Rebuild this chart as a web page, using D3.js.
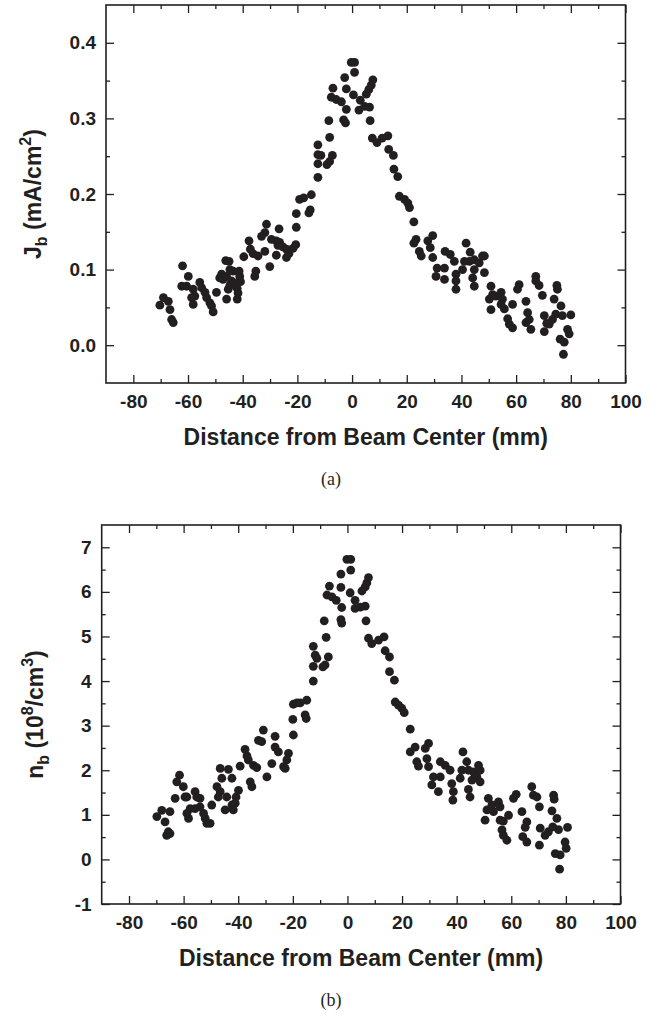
<!DOCTYPE html>
<html>
<head>
<meta charset="utf-8">
<script src="https://cdn.jsdelivr.net/npm/d3@7"></script>
<style>
  body { margin: 0; background: #fff; }
  svg text { font-family: "Liberation Sans", Arial, sans-serif; fill: #231f20; }
</style>
</head>
<body>
<div id="chart"></div>
<script>
// x ticks shared by both panels
const xTicks = [-80, -60, -40, -20, 0, 20, 40, 60, 80, 100];
const xMinor = [-70, -50, -30, -10, 10, 30, 50, 70, 90];

// panel (a): current density
const jTicks = [0.0, 0.1, 0.2, 0.3, 0.4];
const jMinor = [0.05, 0.15, 0.25, 0.35];
const jbData = [
  [-70.3,0.053],[-69.0,0.063],[-67.2,0.058],[-66.6,0.047],[-66.0,0.034],[-65.4,0.030],
  [-62.0,0.105],[-59.9,0.091],[-62.3,0.078],[-60.5,0.078],
  [-55.7,0.083],[-55.0,0.076],[-58.1,0.074],[-57.5,0.065],[-58.7,0.063],[-58.1,0.054],
  [-53.8,0.070],[-53.2,0.063],[-52.0,0.056],[-51.4,0.052],[-50.8,0.044],
  [-49.6,0.070],[-45.9,0.061],
  [-46.2,0.112],[-45.0,0.111],[-44.7,0.100],[-43.5,0.098],
  [-47.7,0.094],[-48.4,0.089],[-47.2,0.087],[-45.9,0.091],
  [-41.3,0.098],[-41.1,0.091],[-40.8,0.084],
  [-42.5,0.082],[-42.0,0.075],[-41.7,0.069],[-42.0,0.061],
  [-44.1,0.085],[-44.7,0.079],[-45.3,0.074],
  [-39.6,0.117],[-37.7,0.138],[-37.2,0.127],[-36.2,0.121],[-34.4,0.118],
  [-35.2,0.098],[-35.6,0.091],
  [-31.3,0.160],[-26.7,0.154],[-31.9,0.149],[-33.1,0.144],
  [-29.5,0.140],[-27.7,0.138],[-26.5,0.136],
  [-31.9,0.124],[-27.1,0.132],[-25.3,0.130],[-24.0,0.127],
  [-20.6,0.133],[-21.6,0.128],[-23.1,0.121],[-24.0,0.116],
  [-27.7,0.119],[-30.1,0.104],
  [-20.4,0.174],[-20.4,0.156],
  [-17.7,0.195],[-19.2,0.193],[-15.3,0.179],[-15.8,0.175],[-14.9,0.199],
  [-12.5,0.265],[-12.5,0.252],[-12.5,0.240],[-12.5,0.222],[-11.4,0.251],
  [-8.2,0.275],[-8.5,0.297],[-7.2,0.251],[-8.2,0.243],[-9.2,0.239],
  [-7.0,0.340],[-7.6,0.328],[-5.8,0.325],[-3.9,0.322],
  [-3.1,0.298],[-2.4,0.294],[-2.1,0.312],[-2.1,0.339],[-2.7,0.354],
  [-0.3,0.374],[0.9,0.374],[0.9,0.361],[0.5,0.331],[3.0,0.324],
  [2.5,0.311],[4.6,0.316],[6.4,0.315],
  [5.2,0.332],[6.1,0.338],[7.0,0.344],[7.6,0.351],
  [6.6,0.297],
  [7.4,0.274],[9.1,0.268],[11.0,0.274],[13.1,0.277],
  [13.4,0.259],[15.1,0.251],[15.3,0.233],[16.7,0.223],
  [17.3,0.197],[19.2,0.193],[20.4,0.188],[21.0,0.182],
  [22.6,0.163],
  [23.4,0.140],[22.6,0.135],[24.6,0.124],[25.3,0.118],
  [27.7,0.138],[29.5,0.145],[28.6,0.129],[29.5,0.116],
  [31.1,0.102],[30.7,0.091],
  [34.0,0.124],[35.9,0.120],[37.4,0.111],
  [33.8,0.102],[33.8,0.087],
  [38.0,0.094],[38.0,0.085],[38.0,0.074],
  [41.7,0.135],[43.2,0.123],
  [41.1,0.111],[42.9,0.111],[44.7,0.113],
  [40.4,0.100],
  [44.7,0.100],[44.1,0.089],[44.7,0.078],
  [46.5,0.109],[47.7,0.118],[48.4,0.118],[48.4,0.096],
  [50.8,0.078],[51.4,0.067],[50.2,0.061],[50.8,0.047],
  [52.6,0.065],[54.5,0.070],[55.0,0.061],
  [54.5,0.054],[55.7,0.048],[58.7,0.054],
  [56.9,0.035],[57.5,0.028],[58.7,0.023],
  [61.1,0.080],[60.5,0.074],[63.6,0.058],
  [64.2,0.043],[64.8,0.034],[65.4,0.021],[63.6,0.030],
  [67.2,0.091],[68.4,0.079],[67.2,0.085],
  [69.6,0.066],
  [70.3,0.039],[71.2,0.029],[70.3,0.018],
  [73.3,0.034],[72.1,0.028],
  [74.9,0.079],[75.1,0.074],[73.9,0.061],
  [76.4,0.052],[74.5,0.041],[76.9,0.039],[80.0,0.040],
  [78.8,0.021],[79.4,0.015],[76.1,0.008],[77.6,0.004],
  [77.3,-0.012]
];

// panel (b): beam density
const nTicks = [-1, 0, 1, 2, 3, 4, 5, 6, 7];
const nMinor = [-0.5, 0.5, 1.5, 2.5, 3.5, 4.5, 5.5, 6.5];
const nbData = [
  [-68.0,1.10],[-69.8,0.96],[-65.0,1.07],[-66.8,0.84],[-65.6,0.62],[-65.0,0.58],[-66.2,0.54],
  [-61.5,1.89],[-62.5,1.74],[-60.1,1.63],[-59.5,1.40],[-63.1,1.37],[-58.8,1.40],
  [-55.8,1.52],[-55.2,1.40],[-54.0,1.37],[-54.0,1.18],
  [-57.6,1.14],[-55.8,1.14],[-58.8,1.03],[-58.2,0.92],
  [-52.7,1.03],[-52.1,0.92],[-51.5,0.81],[-50.3,0.81],
  [-49.7,1.22],
  [-46.6,2.04],[-43.6,2.02],[-46.0,1.82],[-42.3,1.82],
  [-47.8,1.63],[-46.6,1.52],[-47.3,1.40],[-44.2,1.40],
  [-39.9,1.55],[-40.8,1.40],[-41.1,1.26],
  [-42.3,1.22],[-41.8,1.11],[-44.8,1.11],
  [-39.3,2.09],[-37.5,2.47],[-36.8,2.32],[-36.3,2.23],[-34.4,2.11],[-33.2,2.06],
  [-35.6,1.74],[-35.0,1.63],
  [-30.8,2.90],[-26.5,2.76],[-32.6,2.67],[-31.4,2.64],
  [-26.5,2.52],[-25.3,2.41],[-27.7,2.15],
  [-21.6,2.38],[-22.2,2.23],[-23.4,2.08],[-22.8,2.04],
  [-29.5,1.85],
  [-19.8,2.79],[-20.0,3.14],[-19.8,3.48],[-18.5,3.51],
  [-14.9,3.57],[-15.5,3.24],[-15.1,3.16],[-17.3,3.51],
  [-12.5,4.78],[-11.8,4.58],[-12.5,4.33],[-12.5,4.00],[-11.2,4.51],
  [-7.8,4.98],[-8.5,5.35],[-7.0,4.54],[-8.2,4.36],[-9.0,4.32],
  [-6.6,6.13],[-7.5,5.93],[-5.7,5.89],[-4.1,5.81],
  [-2.4,5.38],[-2.1,5.30],[-2.1,5.65],[-2.4,6.10],[-2.4,6.40],
  [-0.2,6.73],[1.2,6.73],[1.2,6.49],[1.0,5.98],[2.8,5.81],
  [2.8,5.63],[4.7,5.66],[6.5,5.68],
  [5.3,6.02],[6.5,6.11],[7.1,6.20],[7.7,6.32],
  [6.8,5.35],
  [7.7,4.96],[8.9,4.84],[11.4,4.92],[13.4,4.99],
  [13.8,4.68],[15.4,4.54],[15.4,4.21],[17.2,4.02],
  [17.5,3.53],[18.7,3.46],[19.9,3.39],[20.8,3.29],
  [23.0,2.92],
  [24.8,2.52],[23.0,2.41],[25.4,2.19],[26.0,2.09],
  [28.5,2.49],[29.7,2.60],[29.1,2.26],[29.7,2.08],
  [31.5,1.85],[30.9,1.67],
  [34.0,2.19],[35.8,2.11],[37.6,2.00],
  [34.0,1.85],[33.3,1.52],
  [38.2,1.70],[38.8,1.52],[38.6,1.33],
  [42.3,2.41],[43.7,2.19],
  [41.9,2.00],[44.3,2.00],[46.2,1.96],
  [41.3,1.82],
  [47.4,1.85],[45.6,1.78],[44.3,1.57],[44.9,1.40],
  [48.0,2.11],[48.6,2.00],[48.6,1.74],
  [51.6,1.37],[53.5,1.07],[51.1,1.11],[50.4,0.88],
  [52.9,1.22],[55.3,1.29],[55.9,1.18],
  [55.9,0.88],[57.1,0.86],[59.0,0.99],
  [56.6,0.66],[57.1,0.54],[58.4,0.43],
  [61.8,1.46],[60.8,1.37],[63.9,1.07],
  [65.7,0.84],[65.1,0.72],[64.2,0.51],[65.7,0.39],
  [67.5,1.63],[68.1,1.44],[69.4,1.40],
  [70.3,1.18],
  [70.6,0.70],[70.3,0.32],
  [72.4,0.54],[73.6,0.62],
  [75.5,1.44],[75.7,1.35],[74.9,1.09],
  [76.7,0.92],[75.2,0.73],[77.3,0.67],[80.6,0.72],
  [79.7,0.39],[80.1,0.25],[76.1,0.13],[77.9,0.10],
  [77.7,-0.22]
];

const W = 656, H = 1018;
const ink = "#231f20";

const svg = d3.select("#chart").append("svg")
  .attr("width", W)
  .attr("height", H);

function drawPanel(p) {
  let width = p.right - p.left;
  let height = p.bottom - p.top;

  let g = svg.append("g")
    .attr("transform", "translate(" + p.left + "," + p.top + ")");

  let x = d3.scaleLinear().domain([-90, 100]).range([0, width]);
  let y = d3.scaleLinear().domain(p.yDomain).range([height, 0]);

  // major + minor ticks on all four sides, pointing inward
  let axes = [
    { ax: d3.axisBottom(x), at: "translate(0," + height + ")", major: xTicks, minor: xMinor, fmt: d => String(d), pad: 12 },
    { ax: d3.axisTop(x), at: "translate(0,0)", major: xTicks, minor: xMinor, fmt: "", pad: 10 },
    { ax: d3.axisLeft(y), at: "translate(0,0)", major: p.yTicks, minor: p.yMinor, fmt: p.fmt, pad: 10 },
    { ax: d3.axisRight(y), at: "translate(" + width + ",0)", major: p.yTicks, minor: p.yMinor, fmt: "", pad: 10 }
  ];

  axes.forEach(function (a) {
    a.ax.tickValues(a.major).tickSize(-8).tickPadding(a.pad).tickFormat(a.fmt);
    let ga = g.append("g").attr("transform", a.at).call(a.ax);
    ga.select(".domain").remove();
    ga.selectAll("line").attr("stroke", ink).attr("stroke-width", 1.3);
    ga.selectAll("text")
      .attr("fill", ink)
      .style("font-size", "19px")
      .style("font-weight", "bold");

    a.ax.tickValues(a.minor).tickSize(-4).tickFormat("");
    let gm = g.append("g").attr("transform", a.at).call(a.ax);
    gm.select(".domain").remove();
    gm.selectAll("line").attr("stroke", ink).attr("stroke-width", 1.3);
  });

  g.append("rect")
    .attr("width", width)
    .attr("height", height)
    .attr("fill", "none")
    .attr("stroke", ink)
    .attr("stroke-width", 1.6);

  g.selectAll(".dot")
    .data(p.data)
    .enter()
    .append("circle")
    .attr("class", "dot")
    .attr("cx", d => x(d[0]))
    .attr("cy", d => y(d[1]))
    .attr("r", 4.4)
    .attr("fill", ink);

  // axis titles
  g.append("text")
    .attr("x", width / 2)
    .attr("y", height + 62)
    .attr("text-anchor", "middle")
    .style("font-size", "23px")
    .style("font-weight", "bold")
    .text("Distance from Beam Center (mm)");

  let yt = g.append("text")
    .attr("transform", "translate(" + (p.titleX - p.left) + "," + (height / 2) + ") rotate(-90)")
    .attr("text-anchor", "middle")
    .style("font-size", "23px")
    .style("font-weight", "bold");
  p.title(yt);

  svg.append("text")
    .attr("x", 331)
    .attr("y", p.capY)
    .attr("text-anchor", "middle")
    .style("font-family", "'Liberation Serif', 'Times New Roman', serif")
    .style("font-size", "18px")
    .text(p.caption);
}

drawPanel({
  left: 106, right: 625.5, top: 5, bottom: 383,
  yDomain: [-0.05, 0.45], yTicks: jTicks, yMinor: jMinor,
  fmt: d3.format(".1f"),
  data: jbData,
  titleX: 41,
  capY: 485, caption: "(a)",
  title: function (t) {
    t.append("tspan").text("J");
    t.append("tspan").attr("dy", 6).style("font-size", "16px").text("b");
    t.append("tspan").attr("dy", -6).text(" (mA/cm");
    t.append("tspan").attr("dy", -10).style("font-size", "16px").text("2");
    t.append("tspan").attr("dy", 10).text(")");
  }
});

drawPanel({
  left: 101.7, right: 620.5, top: 525, bottom: 904,
  yDomain: [-1, 7.5], yTicks: nTicks, yMinor: nMinor,
  fmt: d => String(d),
  data: nbData,
  titleX: 43,
  capY: 1006, caption: "(b)",
  title: function (t) {
    t.append("tspan").text("n");
    t.append("tspan").attr("dy", 6).style("font-size", "16px").text("b");
    t.append("tspan").attr("dy", -6).text(" (10");
    t.append("tspan").attr("dy", -10).style("font-size", "16px").text("8");
    t.append("tspan").attr("dy", 10).text("/cm");
    t.append("tspan").attr("dy", -10).style("font-size", "16px").text("3");
    t.append("tspan").attr("dy", 10).text(")");
  }
});
</script>
</body>
</html>
